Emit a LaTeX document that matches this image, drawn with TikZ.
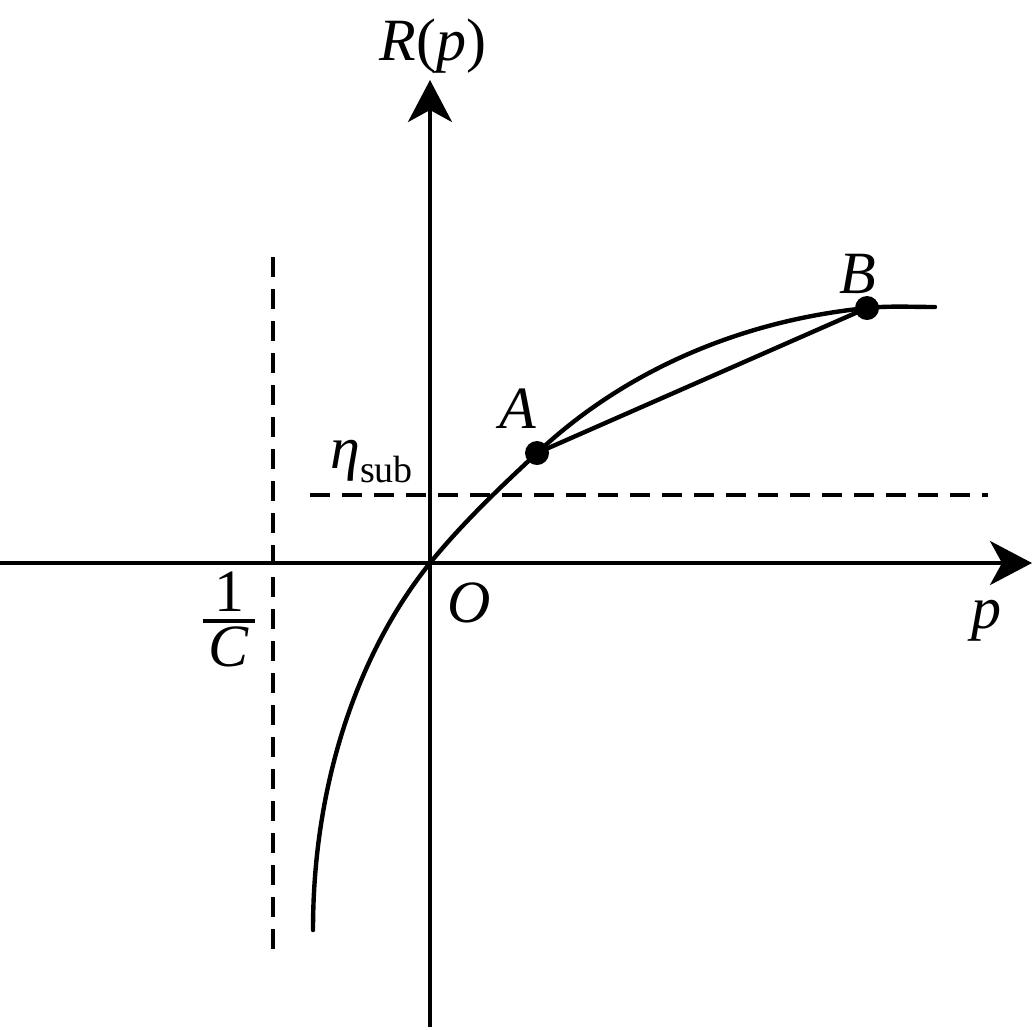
\documentclass[tikz,border=0pt]{standalone}
\usepackage{fontspec}
\setmainfont{LiberationSerif}[Extension=.ttf, UprightFont=*-Regular, ItalicFont=*-Italic, BoldFont=*-Bold, BoldItalicFont=*-BoldItalic]
\usetikzlibrary{arrows.meta}
\begin{document}
\begin{tikzpicture}[x=0.5pt,y=-0.5pt,
  axis/.style={line width=2pt,-{Stealth[length=21pt,width=22pt,inset=6pt]}},
  dashline/.style={line width=2pt,dash pattern=on 10pt off 6pt},
  curveline/.style={line width=2.2pt,line cap=round},
  lbl/.style={font=\fontsize{30}{36}\selectfont, inner sep=0pt, anchor=base},
  dot/.style={circle,fill,inner sep=0pt,minimum size=12pt}]
\useasboundingbox (0,0) rectangle (1033,1029);
% axes
\coordinate (xs) at (0,563);
\coordinate (xe) at (1032,563);
\coordinate (ys) at (430,1027);
\coordinate (ye) at (430,80);
\coordinate (O) at (430,563);
\draw[axis] (xs) -- (xe);
\draw[axis] (ys) -- (ye);
% dashed lines
\coordinate (v1) at (273,257);
\coordinate (v2) at (273,950);
\coordinate (h1) at (310,495);
\coordinate (h2) at (988,495);
\draw[dashline] (v1) -- (v2);
\draw[dashline] (h1) -- (h2);
% curve
\coordinate (c0) at (313,930);
\coordinate (Apt) at (537,453);
\coordinate (Bpt) at (867,308);
\coordinate (c9) at (935,307);
\draw[curveline] (c0) .. controls (313,780) and (360,650) .. (O)
  .. controls (465,520) and (505,483) .. (Apt)
  .. controls (622,373) and (737,321) .. (Bpt)
  .. controls (890,305.7) and (912,307) .. (c9);
% points
\node[dot] (A) at (Apt) {};
\node[dot] (B) at (Bpt) {};
\draw[curveline] (A.center) -- (B.center);
% labels
\node[lbl] (Rp) at (433,60) {\textit{R}(\textit{p})};
\node[lbl] (Ol) at (469,622) {\textit{O}};
\node[lbl] (pl) at (986,628) {\textit{p}};
\node[lbl] (Al) at (518,428) {\textit{A}};
\node[lbl] (Bl) at (858,293) {\textit{B}};
\node[lbl,anchor=base west] (eta) at (330,468) {\textit{η}\raisebox{-7pt}{\fontsize{19}{19}\selectfont sub}};
\node[lbl,anchor=center] (frac) at (229,619) {\renewcommand\arraystretch{0}\setlength\arrayrulewidth{1.6pt}%
  \begin{tabular}{@{\hspace{3pt}}c@{\hspace{3pt}}}\raisebox{0pt}[20pt][4pt]{1}\\\hline\raisebox{0pt}[22pt][0pt]{\textit{C}}\end{tabular}};
\end{tikzpicture}
\end{document}
